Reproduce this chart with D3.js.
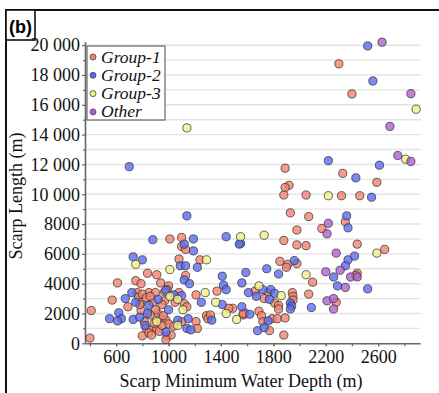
<!DOCTYPE html>
<html>
<head>
<meta charset="utf-8">
<script src="https://cdn.jsdelivr.net/npm/d3@7"></script>
<style>
  body { margin: 0; background: #fff; }
  svg { display: block; font-family: "Liberation Serif", "Times New Roman", serif; }
</style>
</head>
<body>
<svg id="chart" width="439" height="393"></svg>
<script>
// [depth (m), length (m)]
const group1 = [
  [2300,18750],[2400,16730],[1890,11750],[2330,11400],[2590,10800],[1920,10600],[1890,10450],
  [1880,9950],[2050,9950],[2320,9900],[2460,9900],[1930,8750],[2070,8500],[2350,8150],
  [2170,7700],[1980,7600],[1880,6900],[1980,6600],[2050,6550],[2440,6650],[2650,6300],
  [1850,5500],[1910,5300],[1980,5350],[1900,5100],[2440,4700],[2430,4550],[2100,4100],
  [1660,3500],[1760,3400],[1945,3400],[1950,3150],[2070,3300],[1730,3000],[2280,2750],
  [1950,2900],[1810,2700],[1840,2550],[1840,2300],[1580,2050],[1690,2150],[1710,1850],
  [1790,1650],[1830,1650],[1890,1700],[1720,1450],[1770,850],[1880,550],[1570,1900],
  [1010,7000],[1100,7100],[1100,6500],[1130,6300],[1080,5650],[1240,5600],[840,4700],
  [910,4600],[1130,4550],[610,4050],[750,4200],[790,4000],[940,4050],[1000,3850],
  [990,3600],[1210,3250],[1370,3500],[760,3400],[850,3400],[900,3400],[970,3450],
  [1080,3400],[770,3100],[570,2900],[1050,2750],[970,2850],[1120,2650],[690,2450],
  [950,2600],[1140,2450],[1490,2350],[410,2200],[790,2200],[815,1450],[920,2000],
  [940,1650],[980,1550],[1210,1450],[1220,1000],[1290,1850],[1300,1650],[1320,1900],
  [1460,2350],[1570,2000],[830,1000],[870,900],[910,1000],[930,800],[800,500],
  [850,700],[870,550],[990,500],[1020,550],[980,250],[400,350],[790,2750],[1100,1450],
  [800,3300],[830,3050],[880,2750],[860,3150],[780,2600],[900,2250],[960,1850],
  [1000,1300],[890,1350],[950,1200],[1040,1150],[860,1900]
]
const group2 = [
  [2520,19950],[2560,17600],[2220,12250],[2610,11950],[2430,11100],[2550,9800],[2360,8550],
  [2370,7750],[1550,6700],[2420,5850],[2370,5600],[1960,5550],[1750,5000],[2350,5200],
  [1590,4750],[1840,4650],[2260,4450],[1560,4050],[2290,3850],[2520,3650],[1780,3600],
  [1610,3400],[1720,3600],[1810,3350],[1670,3150],[1770,2950],[1930,2700],[1940,2500],
  [1930,2300],[1560,2450],[1620,1950],[2090,2400],[1760,1500],[1680,850],[1730,1050],
  [700,11850],[1140,8550],[880,6950],[1120,6650],[1190,7000],[1190,6200],[1440,7150],
  [1540,6650],[730,5800],[800,5600],[1090,5200],[1130,5200],[1220,5100],[1120,4250],
  [1160,4000],[1410,4500],[1420,3900],[1440,3600],[720,3400],[670,3000],[750,2750],
  [1040,3250],[1100,3200],[920,2950],[1250,2750],[850,2550],[1410,2600],[550,1650],
  [620,2050],[640,1650],[610,1500],[730,1600],[840,2000],[820,1200],[1000,2250],
  [1070,1550],[1150,1650],[1140,1000],[1170,900],[1330,1550],[980,750],[780,1750],
  [980,3550]
]
const group3 = [
  [2890,15700],[2810,12350],[2220,9900],[1730,7250],[1550,7150],[2590,6050],[2050,4600],
  [1690,3850],[1860,3200],[1140,14450],[1290,5600],[750,5300],[1010,4950],[1280,3400],
  [1010,3150],[1360,2750],[1110,2250],[910,1450],[1070,1200],[1440,2000],[1520,1600],
  [1070,2950]
]
const groupOther = [
  [2630,20200],[2850,16750],[2690,14550],[2750,12600],[2850,12200],[2220,8050],[2210,7350],
  [2280,6050],[2310,4900],[2200,4800],[2390,4450],[2440,4450],[2350,3750],[2210,2850],
  [2260,3000],[2260,2300]
]
const seriesNames = ['Group-1', 'Group-2', 'Group-3', 'Other']
const seriesColors = ['#f4826e', '#5b6cf2', '#f1ef8a', '#b25fd4']
const xTicks = [600, 1000, 1400, 1800, 2200, 2600]
const yTicks = [0, 2000, 4000, 6000, 8000, 10000, 12000, 14000, 16000, 18000, 20000]

const svg = d3.select('#chart')
const plotLeft = 86, plotRight = 420.7, plotTop = 42.2, plotBottom = 343.3
const tickFont = '18px'

let xScale = d3.scaleLinear().domain([370, 2925]).range([plotLeft, plotRight])
let yScale = d3.scaleLinear().domain([0, 20200]).range([plotBottom, plotTop])

// outer frame and panel tag
svg.append('rect')
  .attr('x', 6).attr('y', 10).attr('width', 450).attr('height', 400)
  .style('fill', 'none').style('stroke', '#111').style('stroke-width', 2)
svg.append('rect')
  .attr('x', 6).attr('y', 10).attr('width', 29).attr('height', 30)
  .style('fill', '#fff').style('stroke', '#111').style('stroke-width', 1.6)
svg.append('text')
  .attr('x', 20.5).attr('y', 32.5)
  .attr('text-anchor', 'middle')
  .style('font-family', '"Liberation Sans", Arial, sans-serif')
  .style('font-weight', 'bold').style('font-size', '18px')
  .text('(b)')

// gridlines every 1000 m
svg.append('g').classed('grid', true)
  .selectAll('line')
  .data(d3.range(1000, 20001, 1000))
  .enter().append('line')
  .attr('x1', plotLeft).attr('x2', plotRight)
  .attr('y1', d => yScale(d)).attr('y2', d => yScale(d))
  .style('stroke', '#e4e4e4').style('stroke-width', 1.4)

let fmtY = d => d >= 10000 ? d3.format(',')(d).replace(',', ' ') : String(d)

// minor ticks
let yMinor = svg.append('g')
  .attr('transform', `translate(${plotLeft},0)`)
  .call(d3.axisLeft(yScale).tickValues(d3.range(1000, 20000, 2000)).tickSize(3).tickFormat(''))
yMinor.select('.domain').remove()
let xMinor = svg.append('g')
  .attr('transform', `translate(0,${plotBottom})`)
  .call(d3.axisBottom(xScale).tickValues(d3.range(400, 2801, 200)).tickSize(3).tickFormat(''))
xMinor.select('.domain').remove()

let yAxis = svg.append('g')
  .attr('transform', `translate(${plotLeft},0)`)
  .call(d3.axisLeft(yScale).tickValues(yTicks).tickSize(4).tickPadding(2).tickFormat(fmtY))
let xAxis = svg.append('g')
  .attr('transform', `translate(0,${plotBottom})`)
  .call(d3.axisBottom(xScale).tickValues(xTicks).tickSize(3).tickPadding(4).tickFormat(d => String(d)))

for (let ax of [yAxis, xAxis, yMinor, xMinor]) {
  ax.selectAll('line').style('stroke', '#666').style('stroke-width', 1.2)
  ax.selectAll('text')
    .style('font-family', '"Liberation Serif", "Times New Roman", serif')
    .style('font-size', tickFont).style('fill', '#111')
}
yAxis.select('.domain').style('stroke', '#666').style('stroke-width', 1.6)
  .attr('d', `M-0.5,${plotTop}V${plotBottom}`)
xAxis.select('.domain').style('stroke', '#666').style('stroke-width', 1.6)
  .attr('d', `M${plotLeft},0.5H${plotRight}`)

// axis titles
svg.append('text')
  .attr('transform', `translate(22,${196}) rotate(-90)`)
  .attr('text-anchor', 'middle')
  .style('font-size', '18px').style('fill', '#111')
  .text('Scarp Length (m)')
svg.append('text')
  .attr('x', 241).attr('y', 387)
  .attr('text-anchor', 'middle')
  .style('font-size', '18px').style('fill', '#111')
  .text('Scarp Minimum Water Depth (m)')

// points
let allSeries = [group1, group2, group3, groupOther]
allSeries.forEach((pts, i) => {
  svg.append('g').classed('series-' + i, true)
    .selectAll('circle')
    .data(pts)
    .enter().append('circle')
    .attr('cx', d => xScale(d[0]))
    .attr('cy', d => yScale(d[1]))
    .attr('r', 4.1)
    .style('fill', seriesColors[i])
    .style('fill-opacity', 0.8)
    .style('stroke', '#333')
    .style('stroke-opacity', 0.85)
    .style('stroke-width', 0.9)
})

// legend
let legend = svg.append('g').attr('transform', 'translate(87,46)')
legend.append('rect')
  .attr('width', 78).attr('height', 74)
  .style('fill', '#fff').style('stroke', '#666').style('stroke-width', 1.2)
let items = legend.selectAll('g.item')
  .data(seriesNames)
  .enter().append('g').classed('item', true)
  .attr('transform', (d, i) => `translate(0,${11 + i * 18.3})`)
items.append('circle')
  .attr('cx', 6).attr('cy', 0).attr('r', 3)
  .style('fill', (d, i) => seriesColors[i])
  .style('stroke', '#444').style('stroke-width', 0.8)
items.append('text')
  .attr('x', 14).attr('y', 5.5)
  .style('font-style', 'italic').style('font-size', '17.5px').style('fill', '#111')
  .text(d => d)
</script>
</body>
</html>
